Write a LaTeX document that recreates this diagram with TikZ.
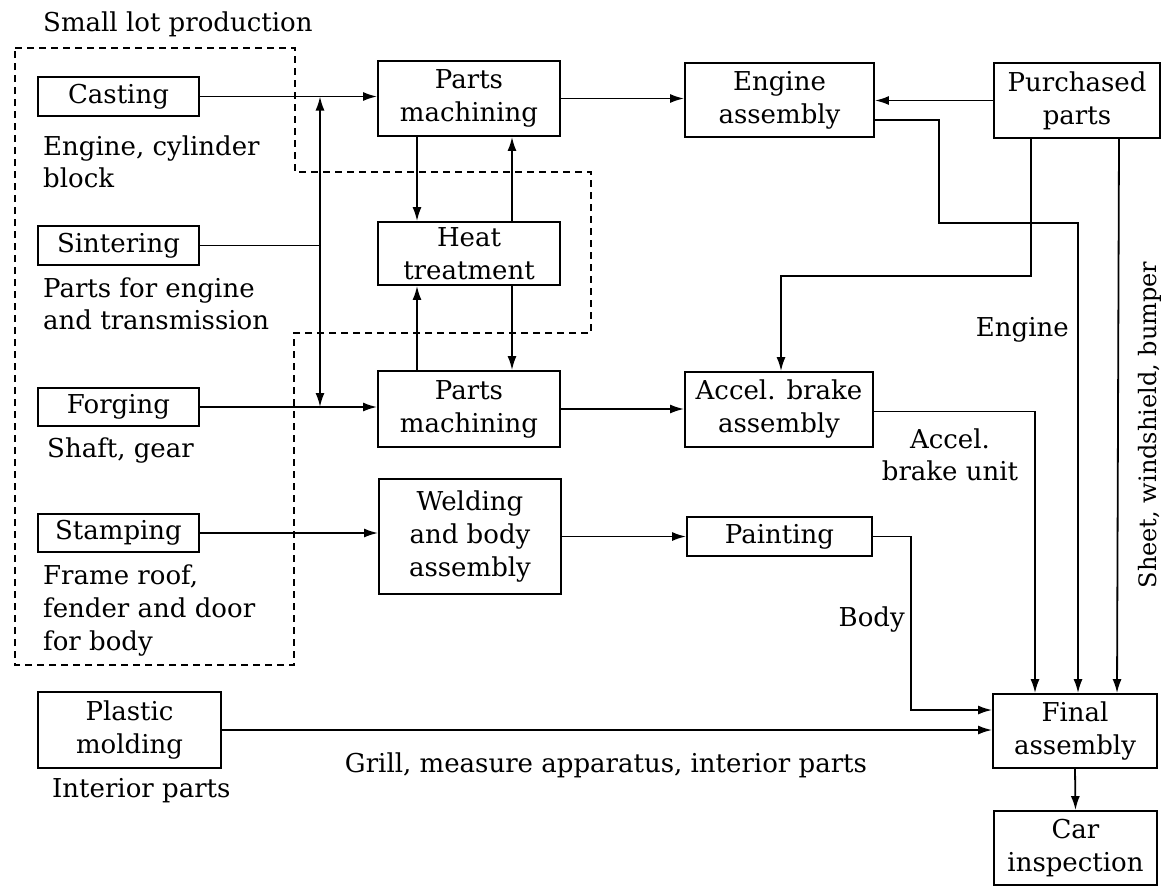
\documentclass[tikz,border=0pt]{standalone}
\usepackage{fontspec}
\setmainfont{DejaVu Serif}
\usetikzlibrary{arrows.meta}
\begin{document}
\begin{tikzpicture}[x=1pt,y=-1pt,
  every node/.style={font=\fontsize{26}{33}\selectfont},
  box/.style={draw, line width=1.8pt, inner sep=0pt, align=center},
  lbl/.style={inner sep=0pt},
  conn/.style={line width=1.8pt},
  arr/.style={conn, -{Latex[length=14pt,width=9pt]}},
  darr/.style={conn, {Latex[length=14pt,width=9pt]}-{Latex[length=14pt,width=9pt]}},
  region/.style={line width=1.6pt, dash pattern=on 7pt off 5pt}]
\useasboundingbox (0,0) rectangle (1169,889);
% dashed region
\draw[region] (15,48) -- (295,48) -- (295,172) -- (591,172) -- (591,333) -- (294,333) -- (294,665) -- (15,665) -- cycle;
% boxes
\node[box, minimum width=161pt, minimum height=39pt] (casting) at (118.5,96.5) {Casting};
\node[box, minimum width=161pt, minimum height=39pt] (sintering) at (118.5,245.5) {Sintering};
\node[box, minimum width=161pt, minimum height=38pt] (forging) at (118.5,407) {Forging};
\node[box, minimum width=161pt, minimum height=38pt] (stamping) at (118.5,533) {Stamping};
\node[box, minimum width=183pt, minimum height=76pt] (plastic) at (129.5,730) {Plastic\\molding};
\node[box, minimum width=182pt, minimum height=75pt] (pm1) at (469,98.5) {Parts\\machining};
\node[box, minimum width=182pt, minimum height=63pt] (heat) at (469,253.5) {Heat\\treatment};
\node[box, minimum width=182pt, minimum height=76pt] (pm2) at (469,409) {Parts\\machining};
\node[box, minimum width=182pt, minimum height=115pt] (weld) at (470,536.5) {Welding\\and body\\assembly};
\node[box, minimum width=189pt, minimum height=74pt] (engasm) at (779.5,100) {Engine\\assembly};
\node[box, minimum width=166pt, minimum height=75pt] (purch) at (1077,100.5) {Purchased\\parts};
\node[box, minimum width=188pt, minimum height=75pt] (accel) at (779,409.5) {Accel. brake\\assembly};
\node[box, minimum width=185pt, minimum height=39pt] (paint) at (779.5,536.5) {Painting};
\node[box, minimum width=164pt, minimum height=74pt] (final) at (1075,731) {Final\\assembly};
\node[box, minimum width=163pt, minimum height=74pt] (car) at (1075.5,848) {Car\\inspection};
% labels
\node[lbl, anchor=base west] (t0) at (43,31) {Small lot production};
\node[lbl, anchor=base west] (t1a) at (43,155) {Engine, cylinder};
\node[lbl, anchor=base west] (t1b) at (43,187) {block};
\node[lbl, anchor=base west] (t2a) at (43,297) {Parts for engine};
\node[lbl, anchor=base west] (t2b) at (43,329) {and transmission};
\node[lbl, anchor=base west] (t3) at (47,457) {Shaft, gear};
\node[lbl, anchor=base west] (t4a) at (43,584) {Frame roof,};
\node[lbl, anchor=base west] (t4b) at (43,617) {fender and door};
\node[lbl, anchor=base west] (t4c) at (43,650) {for body};
\node[lbl, anchor=base west] (t5) at (52,797) {Interior parts};
\node[lbl, anchor=base] (t6) at (606,772) {Grill, measure apparatus, interior parts};
\node[lbl, anchor=base east] (t7) at (1069,336) {Engine};
\node[lbl, anchor=base] (t8a) at (950,448) {Accel.};
\node[lbl, anchor=base] (t8b) at (950,480) {brake unit};
\node[lbl, anchor=base east] (t9) at (905,626) {Body};
\node[lbl, rotate=90, font=\fontsize{24}{30}\selectfont] (t10) at (1150,425) {Sheet, windshield, bumper};
% connectors
\coordinate (jt) at (320,96.5);
\coordinate (jb) at (320,407);
\draw[arr] (casting.east) -- (casting.east -| pm1.west);
\draw[darr] (jt) -- (jb);
\draw[conn] (sintering.east) -- (sintering.east -| jt);
\draw[arr] (forging.east) -- (forging.east -| pm2.west);
\draw[arr] (stamping.east) -- (stamping.east -| weld.west);
\draw[arr] ([xshift=-52pt]pm1.south) -- ([xshift=-52pt]heat.north);
\draw[arr] ([xshift=43pt]heat.north) -- ([xshift=43pt]pm1.south);
\draw[arr] ([xshift=-52pt]pm2.north) -- ([xshift=-52pt]heat.south);
\draw[arr] ([xshift=43pt]heat.south) -- ([xshift=43pt]pm2.north);
\draw[arr] (pm1.east) -- (pm1.east -| engasm.west);
\draw[arr] (purch.west) -- (purch.west -| engasm.east);
\draw[arr] (pm2.east) -- (pm2.east -| accel.west);
\draw[arr] (weld.east) -- (weld.east -| paint.west);
\draw[arr] ([yshift=-20pt]engasm.east) -| (939,223) -| ([xshift=3pt]final.north);
\draw[arr] ([xshift=-46pt]purch.south) |- (781,276) -- ([xshift=2pt]accel.north);
\draw[arr] ([xshift=42pt]purch.south) -- ([xshift=42pt]final.north);
\draw[arr] ([yshift=-2pt]accel.east) -| ([xshift=-40pt]final.north);
\draw[arr] (paint.east) -| (911,710) -- ([yshift=21pt]final.west);
\draw[arr] (plastic.east) -- (plastic.east -| final.west);
\draw[arr] (final.south) -- (car.north);
\end{tikzpicture}
\end{document}
